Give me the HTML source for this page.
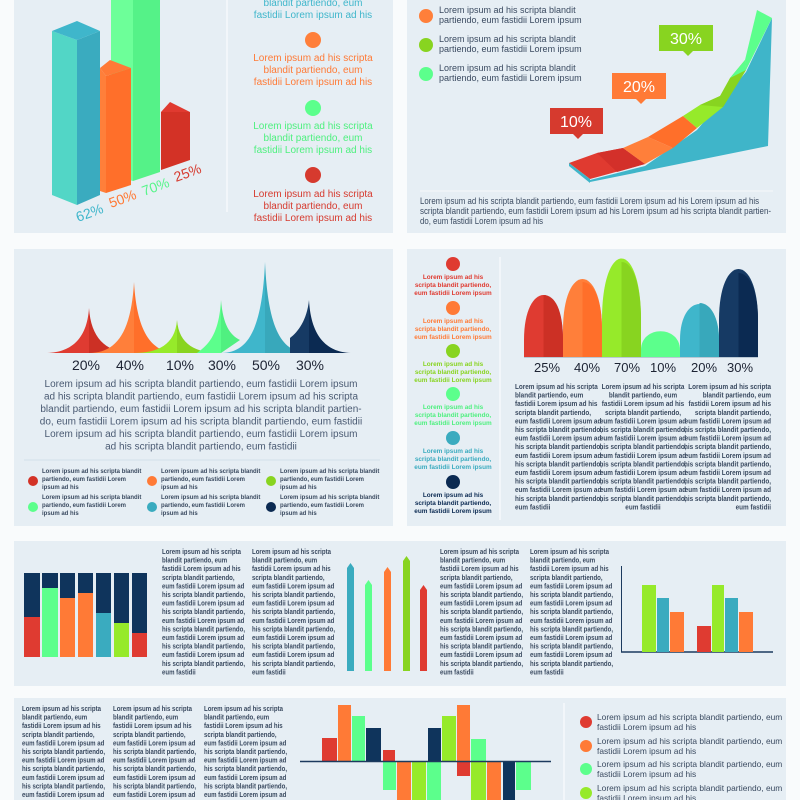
<!DOCTYPE html>
<html><head><meta charset="utf-8"><style>
html,body{margin:0;padding:0;background:#f9fbfc;}
svg{display:block;font-family:"Liberation Sans",sans-serif;}
.t9{font-size:9px;fill:#3a4a60;}
.c{font-size:7.6px;fill:#3a4a60;font-weight:bold;}
.lg{font-size:6px;fill:#3a4a60;font-weight:bold;}
.lc{font-size:6.4px;font-weight:bold;text-anchor:middle;}
.pct{font-size:14px;fill:#1d2333;text-anchor:middle;}
</style></head><body>
<svg width="800" height="800" viewBox="0 0 800 800" xmlns="http://www.w3.org/2000/svg">
<defs>
<g id="col15">
<text class="c"><tspan x="0" dy="0">Lorem ipsum ad his scripta</tspan><tspan x="0" dy="8.6">blandit partiendo, eum</tspan><tspan x="0" dy="8.6">fastidii Lorem ipsum ad his</tspan><tspan x="0" dy="8.6">scripta blandit partiendo,</tspan><tspan x="0" dy="8.6">eum fastidii Lorem ipsum ad</tspan><tspan x="0" dy="8.6">his scripta blandit partiendo,</tspan><tspan x="0" dy="8.6">eum fastidii Lorem ipsum ad</tspan><tspan x="0" dy="8.6">his scripta blandit partiendo,</tspan><tspan x="0" dy="8.6">eum fastidii Lorem ipsum ad</tspan><tspan x="0" dy="8.6">his scripta blandit partiendo,</tspan><tspan x="0" dy="8.6">eum fastidii Lorem ipsum ad</tspan><tspan x="0" dy="8.6">his scripta blandit partiendo,</tspan><tspan x="0" dy="8.6">eum fastidii Lorem ipsum ad</tspan><tspan x="0" dy="8.6">his scripta blandit partiendo,</tspan><tspan x="0" dy="8.6">eum fastidii</tspan></text>
</g>
</defs>

<rect x="14" y="0" width="379" height="233" fill="#e6eef4"/>
<rect x="407" y="0" width="379" height="233" fill="#e6eef4"/>
<rect x="14" y="249" width="379" height="277" fill="#e6eef4"/>
<rect x="407" y="249" width="379" height="277" fill="#e6eef4"/>
<rect x="14" y="541" width="772" height="145" fill="#e6eef4"/>
<rect x="14" y="698" width="772" height="102" fill="#e6eef4"/>

<polygon points="111,0 133,0 133,181 111,175" fill="#6dff99"/>
<polygon points="133,0 160,0 160,172 133,181" fill="#55f288"/>
<polygon points="52,31 77,40 77,205 52,195" fill="#52d6c6"/>
<polygon points="77,40 100,31 100,195 77,205" fill="#3aabbf"/>
<polygon points="52,31 77,21 100,31 77,40" fill="#3fb6cb"/>
<polygon points="100,68 106,76 106,193 100,191" fill="#ff7f3a"/>
<polygon points="106,76 131,68 131,185 106,193" fill="#ff6f2a"/>
<polygon points="100,68 110,60 131,68 106,76" fill="#ff7a36"/>
<polygon points="161,112 161,170 190,160 190,112" fill="#d33226"/>
<polygon points="161,112 170,102 190,112" fill="#e03a30"/>
<g font-size="14">
<text transform="translate(78,222) rotate(-20)" fill="#3fb6cb">62%</text>
<text transform="translate(111,208) rotate(-20)" fill="#ff7a36">50%</text>
<text transform="translate(144,196) rotate(-20)" fill="#57f58a">70%</text>
<text transform="translate(176,182) rotate(-20)" fill="#d63a2e">25%</text>
</g>
<line x1="227" y1="0" x2="227" y2="212" stroke="#ffffff" stroke-width="1"/>
<g font-size="10" text-anchor="middle">
<text x="313" y="6" fill="#3fb6cb">blandit partiendo, eum</text>
<text x="313" y="18" fill="#3fb6cb">fastidii Lorem ipsum ad his</text>
<circle cx="313" cy="40" r="8" fill="#ff7f3a"/>
<text x="313" y="61" fill="#ff7a36">Lorem ipsum ad his scripta</text>
<text x="313" y="73" fill="#ff7a36">blandit partiendo, eum</text>
<text x="313" y="85" fill="#ff7a36">fastidii Lorem ipsum ad his</text>
<circle cx="313" cy="108" r="8" fill="#5cff8c"/>
<text x="313" y="129" fill="#4ef07f">Lorem ipsum ad his scripta</text>
<text x="313" y="141" fill="#4ef07f">blandit partiendo, eum</text>
<text x="313" y="153" fill="#4ef07f">fastidii Lorem ipsum ad his</text>
<circle cx="313" cy="175" r="8" fill="#d63a2e"/>
<text x="313" y="197" fill="#d63a2e">Lorem ipsum ad his scripta</text>
<text x="313" y="209" fill="#d63a2e">blandit partiendo, eum</text>
<text x="313" y="221" fill="#d63a2e">fastidii Lorem ipsum ad his</text>
</g>

<circle cx="426" cy="16" r="7" fill="#ff7f3a"/>
<circle cx="426" cy="45" r="7" fill="#88d420"/>
<circle cx="426" cy="74" r="7" fill="#5cff8c"/>
<g class="t9">
<text x="439" y="13" class="t9">Lorem ipsum ad his scripta blandit</text>
<text x="439" y="23" class="t9">partiendo, eum fastidii Lorem ipsum</text>
<text x="439" y="42" class="t9">Lorem ipsum ad his scripta blandit</text>
<text x="439" y="52" class="t9">partiendo, eum fastidii Lorem ipsum</text>
<text x="439" y="71" class="t9">Lorem ipsum ad his scripta blandit</text>
<text x="439" y="81" class="t9">partiendo, eum fastidii Lorem ipsum</text>
</g>
<polygon points="590,180 645,166 697,130 746,72 772,18 768,146 590,182" fill="#3fb5c9"/>
<polygon points="569,163 597,153 623,148 645,164 590,179" fill="#e03a30"/>
<polygon points="569,163 590,179 590,183 569,166" fill="#3fb5c9"/>
<polygon points="597,153 623,148 645,164 617,172" fill="#d3302a"/>
<polygon points="623,148 648,137 673,148 645,164" fill="#ff7f3a"/>
<polygon points="648,137 683,116 697,128 673,148" fill="#ff6f2a"/>
<polygon points="683,116 700,105 720,96 723,107 697,128" fill="#96ea2a"/>
<polygon points="700,105 720,96 746,70 723,107" fill="#88d420"/>
<polygon points="720,96 730,78 745,60 746,70 723,107" fill="#88d420"/>
<polygon points="745,60 757,10 772,18 746,70" fill="#5cff8c"/>
<polygon points="730,78 745,60 746,70" fill="#5cff8c"/>
<rect x="550" y="108" width="53" height="26" fill="#d63a2e"/>
<polygon points="573,134 583,134 578,139" fill="#d63a2e"/>
<rect x="612" y="73" width="54" height="26" fill="#ff7a36"/>
<polygon points="636,99 646,99 641,104" fill="#ff7a36"/>
<rect x="659" y="25" width="54" height="26" fill="#88d420"/>
<polygon points="683,51 693,51 688,56" fill="#88d420"/>
<g font-size="16" fill="#fff" text-anchor="middle">
<text x="576" y="127">10%</text><text x="639" y="92">20%</text><text x="686" y="44">30%</text>
</g>
<line x1="420" y1="191" x2="773" y2="191" stroke="#f5f8fa" stroke-width="1"/>
<text x="420" y="204" class="t9" textLength="339" lengthAdjust="spacingAndGlyphs">Lorem ipsum ad his scripta blandit partiendo, eum fastidii Lorem ipsum ad his Lorem ipsum ad his</text>
<text x="420" y="214" class="t9" textLength="351" lengthAdjust="spacingAndGlyphs">scripta blandit partiendo, eum fastidii Lorem ipsum ad his Lorem ipsum ad his scripta blandit partien-</text>
<text x="420" y="224" class="t9" textLength="123" lengthAdjust="spacingAndGlyphs">do, eum fastidii Lorem ipsum ad his</text>

<g>
<path d="M45,353 C70,353 87,340 89,308 L89,353 Z" fill="#df3b31"/>
<path d="M89,308 C91,340 108,353 133,353 L89,353Z" fill="#cc3025"/>
<path d="M89,353 C115,353 131,335 134,282 L134,353 Z" fill="#ff7f3a"/>
<path d="M134,282 C137,335 153,353 178,353 L134,353Z" fill="#ff6f2a"/>
<path d="M133,353 C158,353 175,345 177,320 L177,353 Z" fill="#96ea2a"/>
<path d="M177,320 C179,345 196,353 221,353 L177,353Z" fill="#88d420"/>
<path d="M197,353 C208,345 219,335 221,300 L221,353 Z" fill="#5cff8c"/>
<path d="M221,300 C223,325 230,335 240,340 L221,353Z" fill="#50f080"/>
<path d="M221,353 C248,353 262,330 265,262 L265,353 Z" fill="#3fb6cb"/>
<path d="M265,262 C268,330 282,353 309,353 L265,353Z" fill="#38a8bb"/>
<path d="M290,338 C298,332 307,320 309,300 L309,353 L290,353Z" fill="#163a64"/>
<path d="M309,300 C311,338 328,353 353,353 L309,353Z" fill="#0b2a52"/>
</g>
<g class="pct">
<text x="86" y="370">20%</text><text x="130" y="370">40%</text><text x="180" y="370">10%</text>
<text x="222" y="370">30%</text><text x="266" y="370">50%</text><text x="310" y="370">30%</text>
</g>
<g font-size="10" fill="#4a5a72" text-anchor="middle">
<text x="201" y="387">Lorem ipsum ad his scripta blandit partiendo, eum fastidii Lorem ipsum</text>
<text x="201" y="399.5">ad his scripta blandit partiendo, eum fastidii Lorem ipsum ad his scripta</text>
<text x="201" y="412">blandit partiendo, eum fastidii Lorem ipsum ad his scripta blandit partien-</text>
<text x="201" y="424.5">do, eum fastidii Lorem ipsum ad his scripta blandit partiendo, eum fastidii</text>
<text x="201" y="437">Lorem ipsum ad his scripta blandit partiendo, eum fastidii Lorem ipsum</text>
<text x="201" y="449.5">ad his scripta blandit partiendo, eum fastidii</text>
</g>
<line x1="24" y1="460" x2="380" y2="460" stroke="#d3e0ea" stroke-width="1"/>
<g>
<circle cx="33" cy="481" r="5" fill="#d33226"/><circle cx="152" cy="481" r="5" fill="#ff7a36"/><circle cx="271" cy="481" r="5" fill="#88d420"/>
<circle cx="33" cy="507" r="5" fill="#5cff8c"/><circle cx="152" cy="507" r="5" fill="#3aabbf"/><circle cx="271" cy="507" r="5" fill="#0b2a52"/>
<g class="lg">
<text x="42" y="473">Lorem ipsum ad his scripta blandit</text><text x="42" y="481">partiendo, eum fastidii Lorem</text><text x="42" y="489">ipsum ad his</text>
<text x="161" y="473">Lorem ipsum ad his scripta blandit</text><text x="161" y="481">partiendo, eum fastidii Lorem</text><text x="161" y="489">ipsum ad his</text>
<text x="280" y="473">Lorem ipsum ad his scripta blandit</text><text x="280" y="481">partiendo, eum fastidii Lorem</text><text x="280" y="489">ipsum ad his</text>
<text x="42" y="499">Lorem ipsum ad his scripta blandit</text><text x="42" y="507">partiendo, eum fastidii Lorem</text><text x="42" y="515">ipsum ad his</text>
<text x="161" y="499">Lorem ipsum ad his scripta blandit</text><text x="161" y="507">partiendo, eum fastidii Lorem</text><text x="161" y="515">ipsum ad his</text>
<text x="280" y="499">Lorem ipsum ad his scripta blandit</text><text x="280" y="507">partiendo, eum fastidii Lorem</text><text x="280" y="515">ipsum ad his</text>
</g></g>

<g>
<circle cx="453" cy="264" r="7" fill="#df3b31"/>
<text class="lc" fill="#df3b31"><tspan x="453" y="279">Lorem ipsum ad his</tspan><tspan x="453" y="287">scripta blandit partiendo,</tspan><tspan x="453" y="295">eum fastidii Lorem ipsum</tspan></text>
<circle cx="453" cy="308" r="7" fill="#ff7a36"/>
<text class="lc" fill="#ff7a36"><tspan x="453" y="323">Lorem ipsum ad his</tspan><tspan x="453" y="331">scripta blandit partiendo,</tspan><tspan x="453" y="339">eum fastidii Lorem ipsum</tspan></text>
<circle cx="453" cy="351" r="7" fill="#88d420"/>
<text class="lc" fill="#88d420"><tspan x="453" y="366">Lorem ipsum ad his</tspan><tspan x="453" y="374">scripta blandit partiendo,</tspan><tspan x="453" y="382">eum fastidii Lorem ipsum</tspan></text>
<circle cx="453" cy="394" r="7" fill="#5cff8c"/>
<text class="lc" fill="#4ef07f"><tspan x="453" y="409">Lorem ipsum ad his</tspan><tspan x="453" y="417">scripta blandit partiendo,</tspan><tspan x="453" y="425">eum fastidii Lorem ipsum</tspan></text>
<circle cx="453" cy="438" r="7" fill="#3aabbf"/>
<text class="lc" fill="#3aabbf"><tspan x="453" y="453">Lorem ipsum ad his</tspan><tspan x="453" y="461">scripta blandit partiendo,</tspan><tspan x="453" y="469">eum fastidii Lorem ipsum</tspan></text>
<circle cx="453" cy="482" r="7" fill="#0b2a52"/>
<text class="lc" fill="#0b2a52"><tspan x="453" y="497">Lorem ipsum ad his</tspan><tspan x="453" y="505">scripta blandit partiendo,</tspan><tspan x="453" y="513">eum fastidii Lorem ipsum</tspan></text>
</g>
<line x1="500" y1="257" x2="500" y2="520" stroke="#ffffff" stroke-width="1"/>
<path d="M524,357 L524,340 C524,280 563,280 563,340 L563,357Z" fill="#df3b31"/>
<path d="M543.5,295 C555,295 563,310 563,340 L563,357 L543.5,357Z" fill="#cc3025"/>
<path d="M563,357 L563,330 C563,262 602,262 602,330 L602,357Z" fill="#ff7f3a"/>
<path d="M582.5,282 C594,282 602,300 602,330 L602,357 L582.5,357Z" fill="#ff6f2a"/>
<path d="M602,357 L602,320 C602,238 641,238 641,320 L641,357Z" fill="#96ea2a"/>
<path d="M621.5,262 C633,262 641,285 641,320 L641,357 L621.5,357Z" fill="#88d420"/>
<path d="M641,357 L641,350 C641,325 680,325 680,350 L680,357Z" fill="#5cff8c"/>
<path d="M680,357 L680,340 C680,292 719,292 719,340 L719,357Z" fill="#3fb6cb"/>
<path d="M699.5,303 C711,303 719,318 719,340 L719,357 L699.5,357Z" fill="#38a8bb"/>
<path d="M719,357 L719,320 C719,252 758,252 758,320 L758,357Z" fill="#163a64"/>
<path d="M738.5,273 C750,273 758,292 758,320 L758,357 L738.5,357Z" fill="#0b2a52"/>
<line x1="524" y1="357.5" x2="758" y2="357.5" stroke="#b9c8d4" stroke-width="1"/>
<g class="pct" style="font-size:13px">
<text x="547" y="372">25%</text><text x="587" y="372">40%</text><text x="627" y="372">70%</text>
<text x="663" y="372">10%</text><text x="704" y="372">20%</text><text x="740" y="372">30%</text>
</g>
<g transform="translate(515,389) scale(0.84,1)"><use href="#col15"/></g>
<g transform="translate(643,389) scale(0.84,1)"><text class="c" text-anchor="middle"><tspan x="0" dy="0">Lorem ipsum ad his scripta</tspan><tspan x="0" dy="8.6">blandit partiendo, eum</tspan><tspan x="0" dy="8.6">fastidii Lorem ipsum ad his</tspan><tspan x="0" dy="8.6">scripta blandit partiendo,</tspan><tspan x="0" dy="8.6">eum fastidii Lorem ipsum ad</tspan><tspan x="0" dy="8.6">his scripta blandit partiendo,</tspan><tspan x="0" dy="8.6">eum fastidii Lorem ipsum ad</tspan><tspan x="0" dy="8.6">his scripta blandit partiendo,</tspan><tspan x="0" dy="8.6">eum fastidii Lorem ipsum ad</tspan><tspan x="0" dy="8.6">his scripta blandit partiendo,</tspan><tspan x="0" dy="8.6">eum fastidii Lorem ipsum ad</tspan><tspan x="0" dy="8.6">his scripta blandit partiendo,</tspan><tspan x="0" dy="8.6">eum fastidii Lorem ipsum ad</tspan><tspan x="0" dy="8.6">his scripta blandit partiendo,</tspan><tspan x="0" dy="8.6">eum fastidii</tspan></text></g>
<g transform="translate(771,389) scale(0.84,1)"><text class="c" text-anchor="end"><tspan x="0" dy="0">Lorem ipsum ad his scripta</tspan><tspan x="0" dy="8.6">blandit partiendo, eum</tspan><tspan x="0" dy="8.6">fastidii Lorem ipsum ad his</tspan><tspan x="0" dy="8.6">scripta blandit partiendo,</tspan><tspan x="0" dy="8.6">eum fastidii Lorem ipsum ad</tspan><tspan x="0" dy="8.6">his scripta blandit partiendo,</tspan><tspan x="0" dy="8.6">eum fastidii Lorem ipsum ad</tspan><tspan x="0" dy="8.6">his scripta blandit partiendo,</tspan><tspan x="0" dy="8.6">eum fastidii Lorem ipsum ad</tspan><tspan x="0" dy="8.6">his scripta blandit partiendo,</tspan><tspan x="0" dy="8.6">eum fastidii Lorem ipsum ad</tspan><tspan x="0" dy="8.6">his scripta blandit partiendo,</tspan><tspan x="0" dy="8.6">eum fastidii Lorem ipsum ad</tspan><tspan x="0" dy="8.6">his scripta blandit partiendo,</tspan><tspan x="0" dy="8.6">eum fastidii</tspan></text></g>

<g>
<rect x="24" y="573" width="16" height="84" fill="#0f345c"/><rect x="24" y="617" width="16" height="40" fill="#df3b31"/>
<rect x="42" y="573" width="16" height="84" fill="#0f345c"/><rect x="42" y="588" width="16" height="69" fill="#5cff8c"/>
<rect x="60" y="573" width="15" height="84" fill="#0f345c"/><rect x="60" y="598" width="15" height="59" fill="#ff7a36"/>
<rect x="78" y="573" width="15" height="84" fill="#0f345c"/><rect x="78" y="593" width="15" height="64" fill="#ff7a36"/>
<rect x="96" y="573" width="15" height="84" fill="#0f345c"/><rect x="96" y="613" width="15" height="44" fill="#3aabbf"/>
<rect x="114" y="573" width="15" height="84" fill="#0f345c"/><rect x="114" y="623" width="15" height="34" fill="#96ea2a"/>
<rect x="132" y="573" width="15" height="84" fill="#0f345c"/><rect x="132" y="633" width="15" height="24" fill="#df3b31"/>
</g>
<g transform="translate(162,554) scale(0.8,1)"><use href="#col15"/></g>
<g transform="translate(252,554) scale(0.8,1)"><use href="#col15"/></g>
<g transform="translate(440,554) scale(0.8,1)"><use href="#col15"/></g>
<g transform="translate(530,554) scale(0.8,1)"><use href="#col15"/></g>
<g>
<path d="M347,671 L347,568 L350.5,563 L354,568 L354,671Z" fill="#3aabbf"/>
<path d="M365,671 L365,585 L368.5,580 L372,585 L372,671Z" fill="#5cff8c"/>
<path d="M384,671 L384,572 L387.5,567 L391,572 L391,671Z" fill="#ff7a36"/>
<path d="M403,671 L403,561 L406.5,556 L410,561 L410,671Z" fill="#88d420"/>
<path d="M420,671 L420,590 L423.5,585 L427,590 L427,671Z" fill="#df3b31"/>
</g>
<line x1="621.5" y1="566" x2="621.5" y2="652" stroke="#1c3a5e" stroke-width="1"/>
<line x1="621" y1="652" x2="773" y2="652" stroke="#1c3a5e" stroke-width="1.5"/>
<rect x="642" y="585" width="14" height="67" fill="#96ea2a"/>
<rect x="657" y="598" width="12" height="54" fill="#3aabbf"/>
<rect x="670" y="612" width="14" height="40" fill="#ff7a36"/>
<rect x="697" y="626" width="14" height="26" fill="#df3b31"/>
<rect x="712" y="585" width="12" height="67" fill="#96ea2a"/>
<rect x="725" y="598" width="13" height="54" fill="#3aabbf"/>
<rect x="739" y="612" width="14" height="40" fill="#ff7a36"/>

<g transform="translate(22,711) scale(0.8,1)"><use href="#col15"/></g>
<g transform="translate(113,711) scale(0.8,1)"><use href="#col15"/></g>
<g transform="translate(204,711) scale(0.8,1)"><use href="#col15"/></g>
<g>
<rect x="322" y="738" width="15" height="23" fill="#df3b31"/>
<rect x="338" y="705" width="13" height="56" fill="#ff7a36"/>
<rect x="352" y="716" width="13" height="45" fill="#5cff8c"/>
<rect x="366" y="728" width="15" height="33" fill="#0f345c"/>
<rect x="383" y="750" width="12" height="11" fill="#df3b31"/>
<rect x="428" y="728" width="13" height="33" fill="#0f345c"/>
<rect x="442" y="716" width="14" height="45" fill="#96ea2a"/>
<rect x="457" y="705" width="13" height="56" fill="#ff7a36"/>
<rect x="471" y="739" width="15" height="22" fill="#5cff8c"/>
<rect x="383" y="762" width="13" height="28" fill="#5cff8c"/>
<rect x="397" y="762" width="14" height="38" fill="#ff7a36"/>
<rect x="412" y="762" width="14" height="38" fill="#96ea2a"/>
<rect x="427" y="762" width="14" height="38" fill="#5cff8c"/>
<rect x="457" y="762" width="13" height="14" fill="#df3b31"/>
<rect x="471" y="762" width="15" height="38" fill="#96ea2a"/>
<rect x="487" y="762" width="14" height="38" fill="#ff7a36"/>
<rect x="503" y="762" width="12" height="38" fill="#0f345c"/>
<rect x="516" y="762" width="15" height="28" fill="#5cff8c"/>
<line x1="300" y1="761.5" x2="551" y2="761.5" stroke="#1c3a5e" stroke-width="1.5"/>
</g>
<line x1="564" y1="703" x2="564" y2="800" stroke="#ffffff" stroke-width="1"/>
<g>
<circle cx="586" cy="722" r="6" fill="#df3b31"/><circle cx="586" cy="746" r="6" fill="#ff7a36"/>
<circle cx="586" cy="769" r="6" fill="#5cff8c"/><circle cx="586" cy="793" r="6" fill="#96ea2a"/>
<g font-size="8.4" fill="#3a4a60">
<text x="597" y="720">Lorem ipsum ad his scripta blandit partiendo, eum</text><text x="597" y="730">fastidii Lorem ipsum ad his</text>
<text x="597" y="744">Lorem ipsum ad his scripta blandit partiendo, eum</text><text x="597" y="754">fastidii Lorem ipsum ad his</text>
<text x="597" y="767">Lorem ipsum ad his scripta blandit partiendo, eum</text><text x="597" y="777">fastidii Lorem ipsum ad his</text>
<text x="597" y="791">Lorem ipsum ad his scripta blandit partiendo, eum</text><text x="597" y="801">fastidii Lorem ipsum ad his</text>
</g></g>
</svg>
</body></html>
